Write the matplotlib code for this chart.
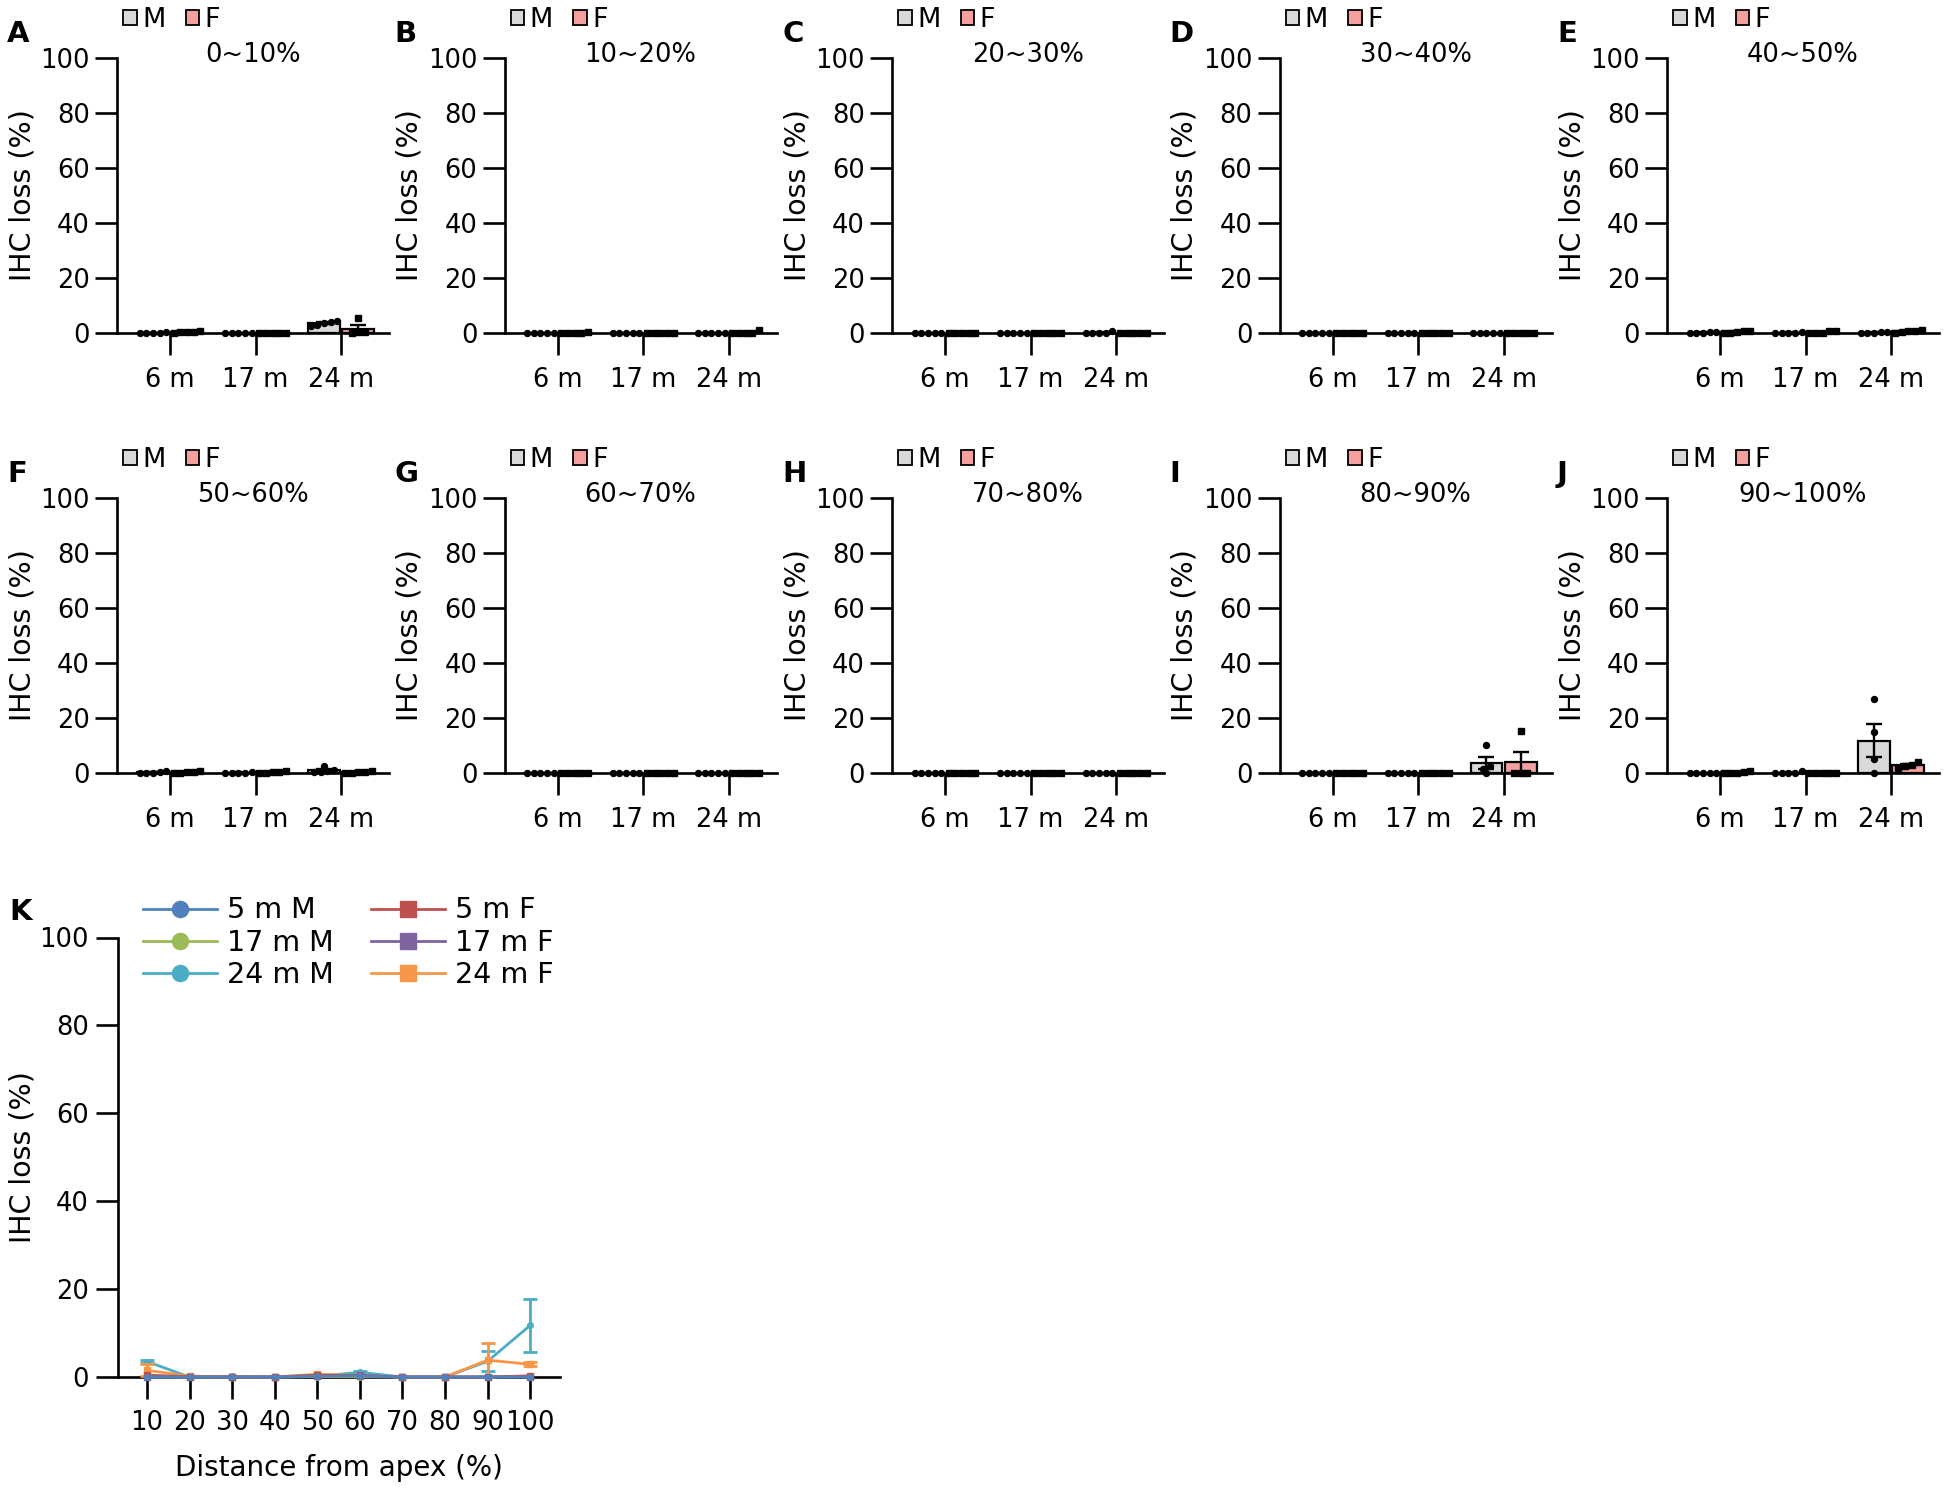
import numpy as np
import matplotlib
matplotlib.use("Agg")
import matplotlib.pyplot as plt
from matplotlib.patches import Patch
from matplotlib.lines import Line2D

# --- data -------------------------------------------------------------
panel_letters = ['A', 'B', 'C', 'D', 'E', 'F', 'G', 'H', 'I', 'J']
regions = ['0~10%', '10~20%', '20~30%', '30~40%', '40~50%',
           '50~60%', '60~70%', '70~80%', '80~90%', '90~100%']
ages = ['6 m', '17 m', '24 m']

# individual animals, IHC loss (%), one list per cochlear region (A..J)
male_6m = [[0, 0, 0, 0, 0.3], [0, 0, 0, 0, 0], [0, 0, 0, 0, 0], [0, 0, 0, 0, 0],
           [0.4, 0, 0.5, 0, 0], [0.5, 0, 0.8, 0, 0], [0, 0, 0, 0, 0], [0, 0, 0, 0, 0],
           [0, 0, 0, 0, 0], [0, 0, 0, 0, 0]]
female_6m = [[0.8, 0.5, 0.5, 0, 0.3], [0.3, 0, 0, 0, 0], [0, 0, 0, 0, 0], [0, 0, 0, 0, 0],
             [0.8, 0.8, 0.5, 0, 0], [0.8, 0.5, 0.3, 0, 0], [0, 0, 0, 0, 0], [0, 0, 0, 0, 0],
             [0, 0, 0, 0, 0], [0.8, 0.5, 0, 0, 0]]
male_17m = [[0, 0, 0, 0, 0], [0, 0, 0, 0, 0], [0, 0, 0, 0, 0], [0, 0, 0, 0, 0],
            [0, 0.5, 0, 0, 0], [0, 0.5, 0, 0, 0], [0, 0, 0, 0, 0], [0, 0, 0, 0, 0],
            [0, 0, 0, 0, 0], [0.8, 0, 0, 0, 0]]
female_17m = [[0, 0, 0, 0, 0], [0, 0, 0, 0, 0], [0, 0, 0, 0, 0], [0, 0, 0, 0, 0],
              [0.8, 0.8, 0, 0, 0], [0.8, 0.5, 0.5, 0, 0], [0, 0, 0, 0, 0], [0, 0, 0, 0, 0],
              [0, 0, 0, 0, 0], [0, 0, 0, 0, 0]]
male_24m = [[2.5, 4.3, 3.8, 3.0, 4.0], [0, 0, 0, 0, 0], [0.8, 0, 0, 0, 0], [0, 0, 0, 0, 0],
            [0.5, 0, 0.3, 0, 0], [2.5, 1.0, 0.5, 0.8, 0.5], [0, 0, 0, 0, 0], [0, 0, 0, 0, 0],
            [10.3, 2.5, 0, 1.5], [27, 15, 5, 0]]
female_24m = [[5.5, 0.3, 0, 0.3], [1.0, 0, 0, 0, 0], [0, 0, 0, 0, 0], [0, 0, 0, 0, 0],
              [1.0, 0.8, 0.8, 0.5, 0], [0.8, 0.5, 0.5, 0, 0], [0, 0, 0, 0, 0], [0, 0, 0, 0, 0],
              [15.4, 0, 0, 0], [4.0, 3.0, 2.5, 2.0]]

apex_distance = [10, 20, 30, 40, 50, 60, 70, 80, 90, 100]
k_labels = ['5 m M', '17 m M', '24 m M', '5 m F', '17 m F', '24 m F']
k_colors = ['#4F81BD', '#9BBB59', '#4BACC6', '#C0504D', '#8064A2', '#F79646']

# --- layout (pixels) ---------------------------------------------------
W, H, DPI = 1950, 1489, 100
COL_LEFT0, COL_STEP, PANEL_W, PANEL_H = 117, 387.5, 272, 275
ROW_TOPS = [58, 498]
M_COLOR, F_COLOR = '#D9D9D9', '#F5A0A0'
BAR_W, OFF = 0.37, 0.2
LW = 1.9

plt.rcParams['font.family'] = ['DejaVu Sans']

fig = plt.figure(figsize=(W / DPI, H / DPI), dpi=DPI)


def add_axes_px(left, top, width, height):
    return fig.add_axes([left / W, 1 - (top + height) / H, width / W, height / H])


def stats(vals):
    v = np.asarray(vals, float)
    sem = v.std(ddof=1) / np.sqrt(len(v)) if len(v) > 1 else 0.0
    return v.mean(), sem


def swarm(vals, step=0.078, tol=1.5):
    """spread out points with nearly equal values, like a scatter dot plot"""
    v = np.asarray(vals, float)
    order = np.argsort(v, kind='stable')
    offs = np.zeros(len(v))
    clusters, cur = [], [order[0]]
    for i in order[1:]:
        if v[i] - v[cur[-1]] < tol:
            cur.append(i)
        else:
            clusters.append(cur)
            cur = [i]
    clusters.append(cur)
    for c in clusters:
        for j, i in enumerate(c):
            offs[i] = (j - (len(c) - 1) / 2) * step
    return offs


def style_axes(ax):
    ax.spines[['top', 'right']].set_visible(False)
    for s in ['left', 'bottom']:
        ax.spines[s].set_linewidth(LW)
    ax.tick_params(axis='both', length=16, width=LW, labelsize=18.5, color='black')
    ax.tick_params(axis='y', pad=3.5)
    ax.tick_params(axis='x', pad=8.5)
    ax.set_ylim(0, 100)
    ax.set_yticks([0, 20, 40, 60, 80, 100])


for idx in range(10):
    row, col = divmod(idx, 5)
    left = COL_LEFT0 + COL_STEP * col
    top = ROW_TOPS[row]
    ax = add_axes_px(left, top, PANEL_W, PANEL_H)
    style_axes(ax)
    ax.set_xlim(-0.62, 2.56)
    ax.set_xticks([0, 1, 2])
    ax.set_xticklabels(ages)

    males = [male_6m[idx], male_17m[idx], male_24m[idx]]
    females = [female_6m[idx], female_17m[idx], female_24m[idx]]
    for g in range(3):
        for pts, color, marker, off in [(males[g], M_COLOR, 'o', -OFF),
                                        (females[g], F_COLOR, 's', OFF)]:
            mean, sem = stats(pts)
            ax.bar(g + off, mean, width=BAR_W, color=color, edgecolor='black',
                   linewidth=1.6, zorder=2)
            if sem > 0:
                ax.errorbar(g + off, mean, yerr=sem, fmt='none', ecolor='black',
                            elinewidth=1.7, capsize=6, capthick=1.7, zorder=3)
            xs = g + off + swarm(pts)
            ax.plot(xs, pts, ls='none', marker=marker, ms=4.3, color='black',
                    clip_on=False, zorder=4)

    ax.text(-0.349, 0.5, 'IHC loss (%)', rotation=90, ha='center', va='center',
            fontsize=20.5, transform=ax.transAxes)
    ax.text(0.5, 1 + 3 / PANEL_H, regions[idx], ha='center', va='center',
            fontsize=18.5, transform=ax.transAxes)
    ax.text(-110 / PANEL_W, 1 + 24 / PANEL_H, panel_letters[idx], ha='left',
            va='center', fontsize=21, fontweight='bold', transform=ax.transAxes)
    handles = [Patch(facecolor=M_COLOR, edgecolor='black', linewidth=1.3),
               Patch(facecolor=F_COLOR, edgecolor='black', linewidth=1.3)]
    ax.legend(handles, ['M', 'F'], ncol=2, frameon=False, fontsize=19.5,
              handlelength=0.5, handleheight=0.5, handletextpad=0.2,
              columnspacing=0.75, borderpad=0, borderaxespad=0,
              loc='center left', bbox_to_anchor=(6 / PANEL_W, 1 + 38 / PANEL_H))

# --- panel K -----------------------------------------------------------
K_LEFT, K_TOP, K_W, K_H = 118, 937.5, 442, 439.5
axk = add_axes_px(K_LEFT, K_TOP, K_W, K_H)
style_axes(axk)
axk.tick_params(axis='y', pad=5)
axk.tick_params(axis='x', pad=8)
axk.set_xlim(3.2, 107)
axk.set_xticks(apex_distance)

series = [male_6m, male_17m, male_24m, female_6m, female_17m, female_24m]
markers = ['o', 'o', 'o', 's', 's', 's']
draw_order = [2, 5, 1, 4, 3, 0]
x = np.array(apex_distance, float)
for s in draw_order:
    st = np.array([stats(p) for p in series[s]])
    means, sems = st[:, 0], st[:, 1]
    axk.plot(x, means, color=k_colors[s], marker=markers[s], ms=4, lw=2,
             clip_on=False, zorder=3)
    has_err = sems > 0.3
    if has_err.any():
        axk.errorbar(x[has_err], means[has_err], yerr=sems[has_err], fmt='none',
                     ecolor=k_colors[s], elinewidth=2, capsize=5, capthick=2,
                     clip_on=False, zorder=3)

axk.text(-0.217, 0.5, 'IHC loss (%)', rotation=90, ha='center', va='center',
         fontsize=20.5, transform=axk.transAxes)
axk.set_xlabel('Distance from apex (%)', fontsize=20, labelpad=13)
axk.text(-109 / K_W, 1 + 26 / K_H, 'K', ha='left', va='center', fontsize=21,
         fontweight='bold', transform=axk.transAxes)

k_handles = [Line2D([], [], color=k_colors[i], marker=markers[i], ms=4, lw=2)
             for i in range(6)]
axk.legend(k_handles, k_labels, ncol=2, frameon=False, fontsize=20.5,
           handlelength=2.6, handletextpad=0.35, columnspacing=1.3,
           labelspacing=0.15, markerscale=2.9, borderpad=0, borderaxespad=0,
           loc='upper left', bbox_to_anchor=(25 / K_W, 1 + 41 / K_H))

fig.savefig('out.png', dpi=DPI)
